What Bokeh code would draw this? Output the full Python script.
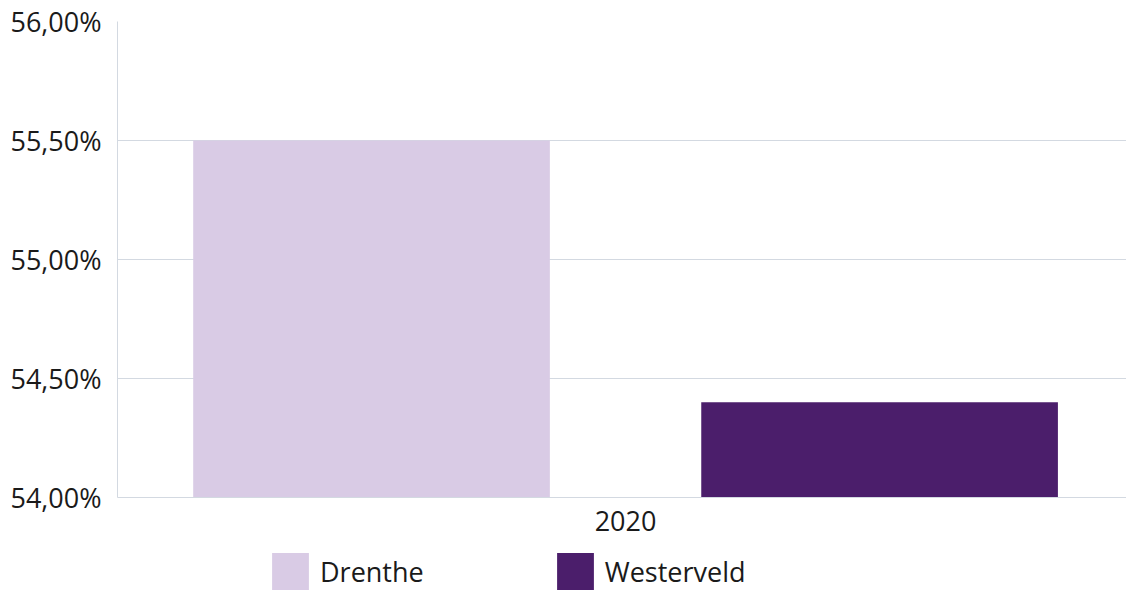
from bokeh.plotting import figure
from bokeh.layouts import column
from bokeh.models import (Range1d, FixedTicker, Legend, LegendItem,
                          CustomJSTickFormatter, ColumnDataSource)
from bokeh.transform import dodge
from bokeh.embed import file_html
from bokeh.resources import INLINE

categories = ["2020"]
series = ["Drenthe", "Westerveld"]
drenthe = [55.50]
westerveld = [54.40]
colors = ["#d9cbe5", "#4b1e6b"]
y_ticks = [54.0, 54.5, 55.0, 55.5, 56.0]

FONT = "Open Sans"
GRID = "#d3d9e1"
TEXT = "#1a1a1a"

x_idx = list(range(len(categories)))
src = ColumnDataSource(dict(x=x_idx, cat=categories, Drenthe=drenthe, Westerveld=westerveld))

p = figure(width=1126, height=540, output_backend="svg", toolbar_location=None,
           x_range=Range1d(-0.5, 0.493), y_range=Range1d(54, 56),
           min_border_left=117, min_border_right=0, min_border_top=21,
           min_border_bottom=43)
p.outline_line_color = None

offsets = [-0.25, 0.25]
for name, off, col in zip(series, offsets, colors):
    p.vbar(x=dodge("x", off), top=name, bottom=54, width=0.351, source=src,
           fill_color=col, line_color=None)

p.yaxis.ticker = FixedTicker(ticks=y_ticks)
p.yaxis.formatter = CustomJSTickFormatter(code="return tick.toFixed(2).replace('.', ',') + '%';")
p.xaxis.ticker = FixedTicker(ticks=x_idx)
p.xaxis.major_label_overrides = {i: c for i, c in zip(x_idx, categories)}
for ax in (p.xaxis[0], p.yaxis[0]):
    ax.axis_line_color = GRID
    ax.major_tick_line_color = None
    ax.minor_tick_line_color = None
    ax.major_label_text_font = FONT
    ax.major_label_text_font_size = "27px"
    ax.major_label_text_color = TEXT
p.yaxis.major_label_standoff = 10
p.xaxis.major_label_standoff = 7

p.xgrid.grid_line_color = None
p.ygrid.ticker = FixedTicker(ticks=y_ticks)
p.ygrid.grid_line_color = GRID

# legend strip below the chart (its swatch renderers sit outside its visible range)
lg = figure(width=1126, height=50, output_backend="svg", toolbar_location=None,
            x_axis_location=None, y_axis_location=None,
            x_range=Range1d(100, 101), y_range=Range1d(100, 101),
            min_border_left=0, min_border_right=0, min_border_top=0, min_border_bottom=0)
lg.outline_line_color = None
lg.grid.grid_line_color = None
swatches = [lg.vbar(x=dodge("x", off), top=name, bottom=54, width=0.351, source=src,
                    fill_color=c, line_color=None)
            for name, off, c in zip(series, offsets, colors)]
legend = Legend(items=[LegendItem(label=s, renderers=[r]) for s, r in zip(series, swatches)],
                orientation="horizontal", location=(150, -4),
                glyph_width=46, glyph_height=46, label_standoff=7, spacing=128,
                padding=0, margin=0, border_line_color=None,
                label_text_font=FONT, label_text_font_size="27px",
                label_text_color=TEXT, background_fill_alpha=0)
lg.add_layout(legend, "center")

layout = column(p, lg, spacing=0)
open("out.html", "w").write(file_html(layout, INLINE))
